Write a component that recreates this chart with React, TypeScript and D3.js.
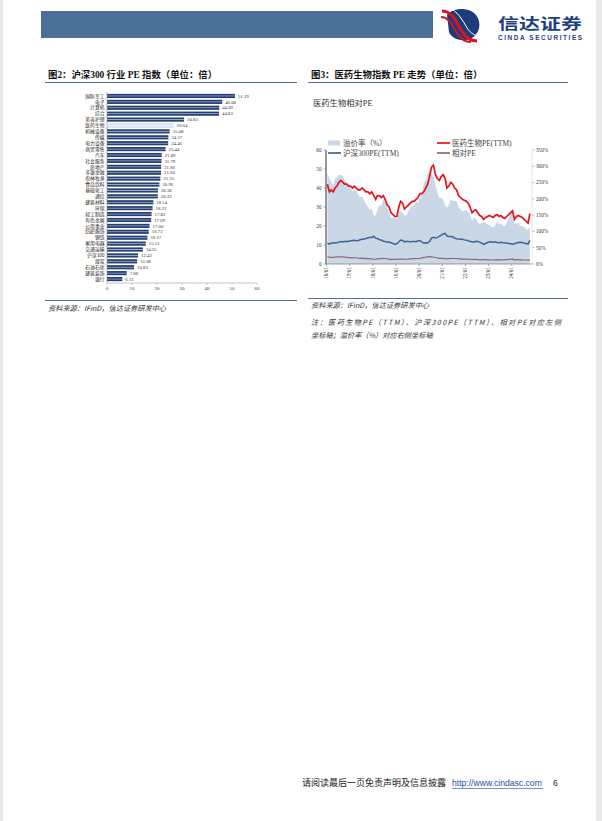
import * as d3 from 'd3';

// ---- 图2 数据 ----
const industries = [
    '国防军工', '电子', '计算机', '综合', '美容护理', '医药生物', '机械设备', '传媒',
    '电力设备', '商贸零售', '汽车', '社会服务', '房地产', '非银金融', '农林牧渔', '食品饮料',
    '基础化工', '通信', '建筑材料', '环保', '轻工制造', '有色金属', '公用事业', '纺织服饰',
    '钢铁', '家用电器', '交通运输', '沪深300', '煤炭', '石油石化', '建筑装饰', '银行'
];
const industryPE = [
    51.19, 46.08, 44.89, 44.83, 30.83, 26.64, 25.08, 24.57,
    24.46, 23.44, 21.89, 21.79, 21.66, 21.6, 21.35, 20.96,
    20.38, 20.33, 18.54, 18.22, 17.82, 17.69, 17.0, 16.72,
    16.17, 15.51, 14.35, 12.43, 12.08, 10.83, 7.88, 6.12
];
const highlight = '医药生物';
const barTicks = [0, 10, 20, 30, 40, 50, 60];

// ---- 图3 数据（月度，2016/01 - 2024/10）----
const startYear = 2016;
const medPE = [
    42, 38, 39, 38, 40, 41, 43, 44, 43, 42, 42, 41,
    41, 40, 41, 40, 39, 39, 40, 39, 38, 38, 37, 38,
    36, 34, 36, 36, 35, 36, 34, 31, 30, 27, 26, 25,
    25, 30, 33, 32, 29, 30, 31, 32, 33, 33, 34, 35,
    37, 37, 38, 40, 42, 46, 51, 52, 47, 45, 44, 46,
    47, 45, 40, 41, 43, 42, 40, 39, 36, 35, 34, 33.5,
    33, 32, 30, 27, 28, 28.5, 27, 25.5, 25, 23.5, 24.5, 25,
    25.5, 25, 24.5, 25.5, 26, 25, 25.5, 24.5, 24, 25, 26, 27,
    28, 23.5, 25, 25.5, 25, 24.5, 23.5, 22.5, 21.5, 26.5
];
const hs300PE = [
    11.0, 10.5, 11.0, 11.2, 11.0, 11.2, 11.5, 11.8, 11.6, 11.8, 12.0, 11.9,
    12.2, 12.4, 12.5, 12.3, 12.4, 12.8, 13.0, 13.2, 13.4, 13.8, 13.9, 14.0,
    14.6, 13.6, 13.4, 12.8, 12.6, 12.0, 11.8, 11.4, 11.6, 11.2, 10.8, 10.4,
    10.6, 11.6, 12.6, 12.4, 11.6, 12.0, 11.8, 11.7, 11.9, 11.8, 11.7, 12.2,
    12.2, 11.6, 10.9, 11.2, 11.1, 11.8, 13.6, 14.0, 13.7, 14.0, 14.5, 15.2,
    15.8, 16.1, 14.7, 14.5, 14.5, 14.3, 13.6, 13.3, 13.1, 13.0, 13.0, 12.7,
    12.5, 12.3, 11.8, 11.7, 11.5, 12.0, 11.8, 11.5, 11.0, 10.3, 10.8, 11.3,
    11.6, 11.7, 11.5, 11.7, 11.3, 11.2, 11.4, 11.2, 11.1, 11.0, 10.8, 10.6,
    10.4, 10.6, 11.1, 11.3, 11.5, 11.3, 11.0, 10.8, 10.5, 12.4
];
const relPE = [
    3.8, 3.6, 3.5, 3.4, 3.6, 3.7, 3.7, 3.7, 3.7, 3.6, 3.5, 3.4,
    3.4, 3.2, 3.3, 3.3, 3.1, 3.0, 3.1, 3.0, 2.8, 2.8, 2.7, 2.7,
    2.5, 2.5, 2.7, 2.8, 2.8, 3.0, 2.9, 2.7, 2.6, 2.4, 2.4, 2.4,
    2.4, 2.6, 2.6, 2.6, 2.5, 2.5, 2.6, 2.7, 2.8, 2.8, 2.9, 2.9,
    3.0, 3.2, 3.5, 3.6, 3.8, 3.9, 3.8, 3.7, 3.4, 3.2, 3.0, 3.0,
    3.0, 2.8, 2.7, 2.8, 3.0, 2.9, 2.9, 2.9, 2.7, 2.7, 2.6, 2.6,
    2.6, 2.6, 2.5, 2.3, 2.4, 2.4, 2.3, 2.2, 2.3, 2.3, 2.3, 2.2,
    2.2, 2.1, 2.1, 2.2, 2.3, 2.2, 2.2, 2.2, 2.2, 2.3, 2.4, 2.5,
    2.7, 2.2, 2.3, 2.3, 2.2, 2.2, 2.1, 2.1, 2.0, 2.1
];
const premium = [
    280, 262, 255, 240, 262, 266, 274, 273, 270, 256, 250, 244,
    236, 222, 228, 225, 214, 205, 208, 195, 184, 175, 166, 171,
    147, 150, 168, 181, 178, 200, 188, 172, 159, 141, 141, 145,
    136, 159, 162, 158, 150, 150, 163, 173, 177, 180, 190, 187,
    203, 219, 249, 257, 278, 290, 275, 271, 243, 221, 203, 203,
    197, 180, 172, 183, 197, 194, 194, 193, 175, 169, 162, 164,
    164, 160, 154, 131, 143, 138, 129, 122, 127, 128, 127, 121,
    120, 114, 113, 118, 130, 123, 124, 119, 116, 127, 141, 155,
    169, 122, 125, 126, 117, 117, 114, 108, 105, 114
];
const yearLabels = ['16/01', '17/01', '18/01', '19/01', '20/01', '21/01', '22/01', '23/01', '24/01'];
const leftTicks = [0, 10, 20, 30, 40, 50, 60];
const rightTicks = [0, 50, 100, 150, 200, 250, 300, 350];

const serif = '"Liberation Serif", "Times New Roman", "Noto Sans CJK SC", serif';
const cjk = '"Noto Sans CJK SC", "Liberation Sans", sans-serif';
const sans = '"Liberation Sans", Arial, sans-serif';

function BarChart() {
    const x = d3.scaleLinear().domain([0, 60]).range([107, 257]);
    const y = d3.scaleBand<string>().domain(industries).range([93, 282]).paddingInner(0.3).paddingOuter(0.15);
    return (
        <g>
            <defs>
                <linearGradient id="barGrad" x1="0" y1="0" x2="0" y2="1">
                    <stop offset="0" stopColor="#1d3364" />
                    <stop offset="0.32" stopColor="#2b467a" />
                    <stop offset="0.5" stopColor="#9db0d2" />
                    <stop offset="0.68" stopColor="#2b467a" />
                    <stop offset="1" stopColor="#1d3364" />
                </linearGradient>
                <linearGradient id="barGradHi" x1="0" y1="0" x2="0" y2="1">
                    <stop offset="0" stopColor="#c3d1e6" />
                    <stop offset="0.5" stopColor="#eef2f9" />
                    <stop offset="1" stopColor="#c3d1e6" />
                </linearGradient>
            </defs>
            {industries.map((name, i) => {
                const yy = y(name)!;
                const bw = y.bandwidth();
                return (
                    <g key={name}>
                        <rect
                            x={x(0)}
                            y={yy}
                            width={x(industryPE[i]) - x(0)}
                            height={bw}
                            fill={name === highlight ? 'url(#barGradHi)' : 'url(#barGrad)'}
                        />
                        <text x={x(0) - 2.5} y={yy + bw / 2} dy="0.35em" textAnchor="end" fontSize={4.8} fontFamily={cjk} fill="#222">
                            {name}
                        </text>
                        <text x={x(industryPE[i]) + 3} y={yy + bw / 2} dy="0.35em" fontSize={4.8} fontFamily={serif} fill="#333">
                            {industryPE[i].toFixed(2)}
                        </text>
                        <line x1={x(0) - 1.5} x2={x(0)} y1={yy - (y.step() - bw) / 2} y2={yy - (y.step() - bw) / 2} stroke="#888" strokeWidth={0.4} />
                    </g>
                );
            })}
            <line x1={x(0)} x2={x(0)} y1={92} y2={283} stroke="#888" strokeWidth={0.5} />
            <line x1={x(0)} x2={x(60)} y1={283} y2={283} stroke="#888" strokeWidth={0.5} />
            {barTicks.map((t) => (
                <g key={t}>
                    <line x1={x(t)} x2={x(t)} y1={283} y2={285} stroke="#888" strokeWidth={0.4} />
                    <text x={x(t)} y={290} textAnchor="middle" fontSize={4.9} fontFamily={serif} fill="#333">
                        {t}
                    </text>
                </g>
            ))}
        </g>
    );
}

function LineChart() {
    const n = medPE.length;
    const dateOf = (i: number) => new Date(startYear, i, 15);
    const x = d3
        .scaleTime()
        .domain([new Date(startYear, 0, 1), new Date(startYear, n, 1)])
        .range([326.5, 531]);
    const yL = d3.scaleLinear().domain([0, 60]).range([264, 150]);
    const yR = d3.scaleLinear().domain([0, 350]).range([264, 150]);
    const idx = d3.range(n);
    const area = d3
        .area<number>()
        .x((i) => x(dateOf(i)))
        .y0(yR(0))
        .y1((i) => yR(premium[i]));
    const lineOf = (arr: number[]) =>
        d3
            .line<number>()
            .x((i) => x(dateOf(i)))
            .y((i) => yL(arr[i]))(idx)!;
    return (
        <g>
            <path d={area(idx)!} fill="#c9d7e7" />
            <path d={lineOf(relPE)} fill="none" stroke="#8a6a6e" strokeWidth={1.2} />
            <path d={lineOf(hs300PE)} fill="none" stroke="#3e6494" strokeWidth={1.5} />
            <path d={lineOf(medPE)} fill="none" stroke="#e5131b" strokeWidth={1.7} />
            {/* 左轴 */}
            <line x1={326} x2={326} y1={150} y2={264} stroke="#555" strokeWidth={1.2} />
            {leftTicks.map((t) => (
                <g key={t}>
                    <line x1={323.5} x2={326} y1={yL(t)} y2={yL(t)} stroke="#666" strokeWidth={0.5} />
                    <text x={321.5} y={yL(t)} dy="0.35em" textAnchor="end" fontSize={5.2} fontFamily={serif} fill="#333">
                        {t}
                    </text>
                </g>
            ))}
            {/* 右轴 */}
            <line x1={532} x2={532} y1={150} y2={264} stroke="#d6d6d6" strokeWidth={0.5} />
            {rightTicks.map((t) => (
                <g key={t}>
                    <line x1={532} x2={534.5} y1={yR(t)} y2={yR(t)} stroke="#888" strokeWidth={0.5} />
                    <text x={536} y={yR(t)} dy="0.35em" fontSize={5.2} fontFamily={serif} fill="#333">
                        {t}%
                    </text>
                </g>
            ))}
            {/* 横轴 */}
            <line x1={326} x2={532} y1={264} y2={264} stroke="#666" strokeWidth={0.6} />
            {yearLabels.map((lab, k) => {
                const xx = x(new Date(startYear + k, 0, 1));
                return (
                    <g key={lab}>
                        <line x1={xx} x2={xx} y1={264} y2={266} stroke="#666" strokeWidth={0.5} />
                        <text
                            transform={`translate(${xx + 1.8},267) rotate(-90)`}
                            textAnchor="end"
                            fontSize={5.2}
                            fontFamily={serif}
                            fill="#333"
                        >
                            {lab}
                        </text>
                    </g>
                );
            })}
            {/* 图例 */}
            <rect x={328} y={140.5} width={12} height={5} fill="#c9d7e7" />
            <text x={343} y={143} dy="0.35em" fontSize={7.5} fontFamily={serif} fill="#444">
                溢价率（%）
            </text>
            <line x1={437} x2={450} y1={143} y2={143} stroke="#e5131b" strokeWidth={1.7} />
            <text x={452} y={143} dy="0.35em" fontSize={7.5} fontFamily={serif} fill="#444">
                医药生物PE(TTM)
            </text>
            <line x1={328} x2={341} y1={153} y2={153} stroke="#3e6494" strokeWidth={1.7} />
            <text x={343} y={153} dy="0.35em" fontSize={7.5} fontFamily={serif} fill="#444">
                沪深300PE(TTM)
            </text>
            <line x1={437} x2={450} y1={153} y2={153} stroke="#8a6a6e" strokeWidth={1.7} />
            <text x={452} y={153} dy="0.35em" fontSize={7.5} fontFamily={serif} fill="#444">
                相对PE
            </text>
        </g>
    );
}

function Logo() {
    return (
        <g>
            <path d="M447,15 C453,7 470,7 476,15 C483,24 479,38 466,40 C457,41 451,37 449,32 Z" fill="#1c3c7c" />
            <path d="M442,11 C451,11 455,19 461,30 C465,37 470,41 477,41" fill="none" stroke="#d8141c" strokeWidth={3} />
            <path d="M441,17 C449,17 452,25 457,33 C460,38 464,42 471,42" fill="none" stroke="#d8141c" strokeWidth={2} />
            <path d="M445,8 C455,8 460,16 466,26 C469,32 474,36 480,36" fill="none" stroke="#ffffff" strokeWidth={1} />
            <text x={498} y={29} fontSize={15} fontWeight="bold" fontFamily={cjk} fill="#1d3f7d" textLength={84} lengthAdjust="spacingAndGlyphs">
                信达证券
            </text>
            <text x={498} y={39.5} fontSize={6.4} fontWeight="bold" fontFamily={sans} fill="#1d3f7d" textLength={84}>
                CINDA SECURITIES
            </text>
        </g>
    );
}

export default function App() {
    return (
        <div style={{ position: 'absolute', left: 0, top: 0 }}>
            <svg width={602} height={821} style={{ display: 'block' }}>
                <rect x={0} y={0} width={602} height={821} fill="#e9e9e9" />
                <rect x={3} y={0} width={593} height={821} fill="#ffffff" />
                {/* 页眉 */}
                <rect x={41} y={11} width={392} height={27} fill="#4b6f96" />
                <Logo />
                {/* 标题 */}
                <text x={48} y={78} fontSize={9.4} fontWeight="bold" fontFamily={serif} fill="#111">
                    图2：沪深300 行业 PE 指数（单位：倍）
                </text>
                <line x1={45} x2={297} y1={82.5} y2={82.5} stroke="#3d5f8a" strokeWidth={0.9} />
                <text x={311} y={78} fontSize={9.4} fontWeight="bold" fontFamily={serif} fill="#111">
                    图3：医药生物指数 PE 走势（单位：倍）
                </text>
                <line x1={308} x2={568} y1={82.5} y2={82.5} stroke="#3d5f8a" strokeWidth={0.9} />

                <BarChart />

                <text x={313} y={106} fontSize={8.3} fontFamily={serif} fill="#333">
                    医药生物相对PE
                </text>
                <LineChart />

                {/* 资料来源 */}
                <line x1={45} x2={297} y1={300.5} y2={300.5} stroke="#3d5f8a" strokeWidth={0.9} />
                <text x={48} y={311} fontSize={7.2} fontStyle="italic" fontFamily={cjk} fill="#333">
                    资料来源：IFinD，信达证券研发中心
                </text>
                <line x1={308} x2={568} y1={298.5} y2={298.5} stroke="#3d5f8a" strokeWidth={0.9} />
                <text x={311} y={308} fontSize={7.2} fontStyle="italic" fontFamily={cjk} fill="#333">
                    资料来源：IFinD，信达证券研发中心
                </text>
                <text x={311} y={325} fontSize={7.2} fontStyle="italic" fontFamily={cjk} fill="#333" textLength={250} lengthAdjust="spacing">
                    注：医药生物PE（TTM）、沪深300PE（TTM）、相对PE对应左侧
                </text>
                <text x={311} y={338} fontSize={7.2} fontStyle="italic" fontFamily={cjk} fill="#333">
                    坐标轴；溢价率（%）对应右侧坐标轴
                </text>

                {/* 页脚 */}
                <text x={302} y={786} fontSize={9} fontFamily={cjk} fill="#222">
                    请阅读最后一页免责声明及信息披露
                </text>
                <text x={452} y={786} fontSize={8.6} fontFamily={sans} fill="#1f4e9c">
                    http://www.cindasc.com
                </text>
                <line x1={452} x2={543} y1={788.5} y2={788.5} stroke="#1f4e9c" strokeWidth={0.6} />
                <text x={553} y={786} fontSize={8.6} fontFamily={sans} fill="#222">
                    6
                </text>
            </svg>
        </div>
    );
}
